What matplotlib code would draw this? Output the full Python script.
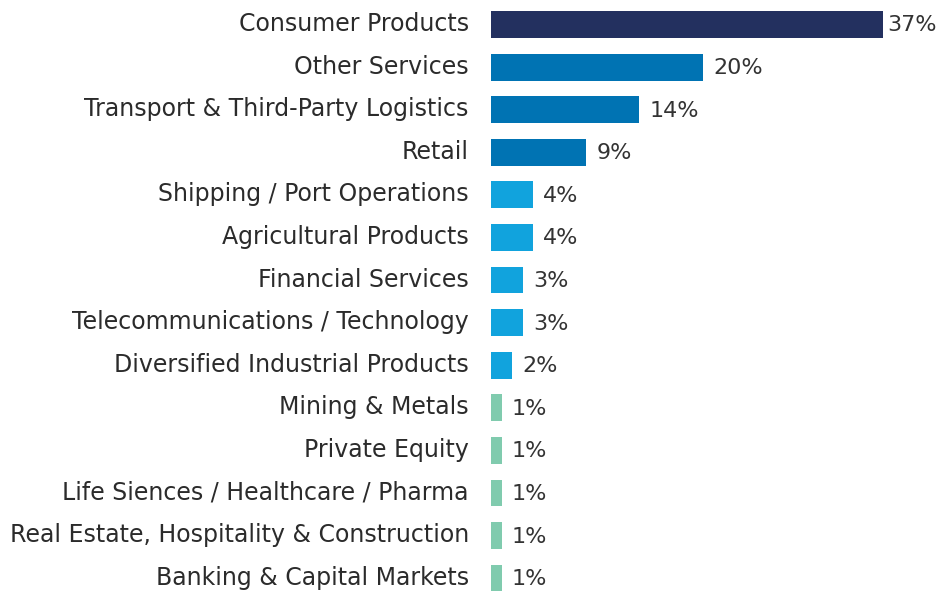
import matplotlib
matplotlib.use('Agg')
import matplotlib.pyplot as plt
import matplotlib.transforms as mtransforms

# sector shares, top to bottom
sectors = ['Consumer Products', 'Other Services', 'Transport & Third-Party Logistics',
           'Retail', 'Shipping / Port Operations', 'Agricultural Products',
           'Financial Services', 'Telecommunications / Technology',
           'Diversified Industrial Products', 'Mining & Metals', 'Private Equity',
           'Life Siences / Healthcare / Pharma', 'Real Estate, Hospitality & Construction',
           'Banking & Capital Markets']
shares = [37, 20, 14, 9, 4, 4, 3, 3, 2, 1, 1, 1, 1, 1]

navy = '#23305F'
blue = '#0073B3'
sky = '#11A3DD'
mint = '#80CBAE'
colors = [navy] + [blue] * 3 + [sky] * 5 + [mint] * 5

plt.rcParams['font.family'] = ['DejaVu Sans']

fig = plt.figure(figsize=(9.38, 5.91), dpi=100)
ax = fig.add_axes([491 / 938, 0, 447 / 938, 1])

ypos = list(range(len(sectors)))
ax.barh(ypos, shares, height=0.63, color=colors)

for y, v in zip(ypos, shares):
    gap = 4 if v == max(shares) else 10
    ax.annotate('%d%%' % v, (v, y), xytext=(gap, -1), textcoords='offset pixels',
                ha='left', va='center', fontsize=16, color='#333333')

ax.set_xlim(0, 447 / 10.6)
ax.set_ylim(13.30, -0.575)
ax.set_yticks(ypos)
ax.set_yticklabels(sectors, fontsize=17, color='#2b2b2b')
ax.tick_params(axis='y', length=0, pad=16)
# lift the sector names a touch above the bar centres
lift = mtransforms.ScaledTranslation(0, 3 / 100, fig.dpi_scale_trans)
for lbl in ax.get_yticklabels():
    lbl.set_transform(lbl.get_transform() + lift)
ax.set_xticks([])
for s in ax.spines.values():
    s.set_visible(False)

fig.savefig('out.png', dpi=100)
